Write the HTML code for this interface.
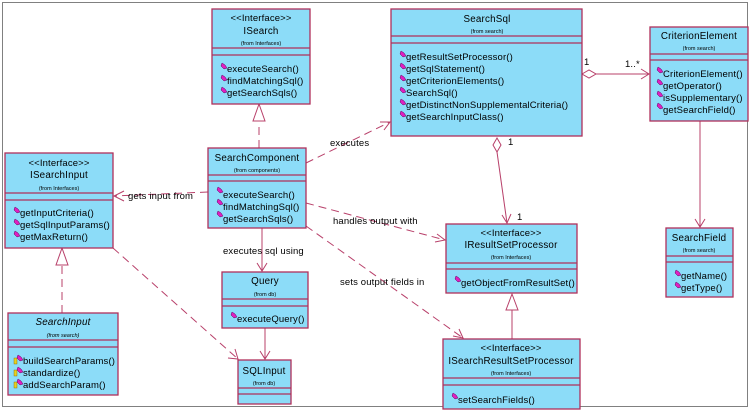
<!DOCTYPE html>
<html><head><meta charset="utf-8"><style>
html,body{margin:0;padding:0;background:#fff;width:751px;height:410px;overflow:hidden}
svg{display:block}
text{font-family:"Liberation Sans",sans-serif;fill:#000}
.n{font-size:9.8px;letter-spacing:0.2px}
.f{font-size:5.5px}
.m{font-size:9.5px;letter-spacing:0.15px}
.l{font-size:9.5px;letter-spacing:0.15px}
.b{fill:#8cdcf8;stroke:#b0305a;stroke-width:1.3}
.s{stroke:#b0305a;stroke-width:1.2;fill:none}
.d{stroke:#b8406a;stroke-width:1;fill:none;stroke-dasharray:8,5}
.c{stroke:#b8406a;stroke-width:1;fill:none}
</style></head><body>
<svg width="751" height="410" viewBox="0 0 751 410" xmlns="http://www.w3.org/2000/svg">
<defs>
<g id="ic"><path d="M0,-3 L3,-1 L5,2 L2,3 L-1,0 Z" fill="#e020c0" stroke="#600060" stroke-width="0.5"/></g>
<g id="key"><rect x="-4" y="-3" width="3" height="6" fill="#e8d020" stroke="#806000" stroke-width="0.4"/></g>
</defs>
<rect x="2.5" y="2.5" width="745" height="404" fill="#fff" stroke="#808080" stroke-width="1"/>

<line class="d" x1="259" y1="148" x2="259" y2="122"/>
<polygon points="259,104 253,121 265,121" fill="#fff" stroke="#b8406a"/>
<line class="d" x1="208" y1="192" x2="114" y2="196"/>
<polyline class="c" points="124,191 114,196 124,201"/>
<line class="d" x1="62" y1="313" x2="62" y2="265"/>
<polygon points="62,248 56,265 68,265" fill="#fff" stroke="#b8406a"/>
<line class="d" x1="113" y1="248" x2="238" y2="359"/>
<polyline class="c" points="228,358 238,359 235,349"/>
<line class="d" x1="306" y1="163" x2="390" y2="122"/>
<polyline class="c" points="380,122 390,122 384,130"/>
<line class="d" x1="306" y1="203" x2="445" y2="240"/>
<polyline class="c" points="437,234 445,240 435,242"/>
<line class="d" x1="306" y1="226" x2="463" y2="338"/>
<polyline class="c" points="453,336 463,338 459,329"/>
<line class="c" x1="262" y1="228" x2="262" y2="271"/>
<polyline class="c" points="257,263 262,271 267,263"/>
<line class="c" x1="265" y1="328" x2="265" y2="359"/>
<polyline class="c" points="260,351 265,359 270,351"/>
<polygon points="582,74 589,70 596,74 589,78" fill="#fff" stroke="#b8406a"/>
<line class="c" x1="596" y1="74" x2="649" y2="74"/>
<polyline class="c" points="641,69 649,74 641,79"/>
<polygon points="497,138 501,145 497,152 493,145" fill="#fff" stroke="#b8406a"/>
<line class="c" x1="497" y1="152" x2="507" y2="223"/>
<polyline class="c" points="502,215 507,223 511,214"/>
<line class="c" x1="512" y1="339" x2="512" y2="310"/>
<polygon points="512,294 506,310 518,310" fill="#fff" stroke="#b8406a"/>
<line class="c" x1="700" y1="121" x2="700" y2="227"/>
<polyline class="c" points="695,219 700,227 705,219"/>

<text class="l" x="128" y="199">gets input from</text>
<text class="l" x="330" y="146">executes</text>
<text class="l" x="333" y="224">handles output with</text>
<text class="l" x="340" y="285">sets output fields in</text>
<text class="l" x="223" y="254">executes sql using</text>
<text class="l" x="584" y="65">1</text>
<text class="l" x="625" y="67">1..*</text>
<text class="l" x="508" y="145">1</text>
<text class="l" x="517" y="220">1</text>

<rect class="b" x="212" y="9" width="98" height="95"/>
<line class="s" x1="212" y1="48" x2="310" y2="48"/><line class="s" x1="212" y1="55" x2="310" y2="55"/>
<text class="m" x="261" y="21" text-anchor="middle">&lt;&lt;Interface&gt;&gt;</text>
<text class="n" x="261" y="34" text-anchor="middle">ISearch</text>
<text class="f" x="261" y="45" text-anchor="middle">(from Interfaces)</text>
<use href="#ic" x="222" y="66"/><text class="m" x="227" y="72">executeSearch()</text>
<use href="#ic" x="222" y="78"/><text class="m" x="227" y="84">findMatchingSql()</text>
<use href="#ic" x="222" y="90"/><text class="m" x="227" y="96">getSearchSqls()</text>

<rect class="b" x="208" y="148" width="98" height="80"/>
<line class="s" x1="208" y1="175" x2="306" y2="175"/><line class="s" x1="208" y1="181" x2="306" y2="181"/>
<text class="n" x="257" y="161" text-anchor="middle">SearchComponent</text>
<text class="f" x="257" y="172" text-anchor="middle">(from components)</text>
<use href="#ic" x="218" y="190"/><text class="m" x="223" y="198">executeSearch()</text>
<use href="#ic" x="218" y="202"/><text class="m" x="223" y="210">findMatchingSql()</text>
<use href="#ic" x="218" y="214"/><text class="m" x="223" y="222">getSearchSqls()</text>

<rect class="b" x="5" y="153" width="108" height="95"/>
<line class="s" x1="5" y1="193" x2="113" y2="193"/><line class="s" x1="5" y1="200" x2="113" y2="200"/>
<text class="m" x="59" y="166" text-anchor="middle">&lt;&lt;Interface&gt;&gt;</text>
<text class="n" x="59" y="178" text-anchor="middle">ISearchInput</text>
<text class="f" x="59" y="190" text-anchor="middle">(from Interfaces)</text>
<use href="#ic" x="15" y="210"/><text class="m" x="20" y="216">getInputCriteria()</text>
<use href="#ic" x="15" y="222"/><text class="m" x="20" y="228">getSqlInputParams()</text>
<use href="#ic" x="15" y="234"/><text class="m" x="20" y="240">getMaxReturn()</text>

<rect class="b" x="8" y="313" width="110" height="82"/>
<line class="s" x1="8" y1="340" x2="118" y2="340"/><line class="s" x1="8" y1="347" x2="118" y2="347"/>
<text class="n" x="63" y="325" text-anchor="middle" font-style="italic">SearchInput</text>
<text class="f" x="63" y="337" text-anchor="middle" font-style="italic">(from search)</text>
<use href="#key" x="18" y="361"/><use href="#ic" x="18" y="358"/><text class="m" x="23" y="364">buildSearchParams()</text>
<use href="#key" x="18" y="373"/><use href="#ic" x="18" y="370"/><text class="m" x="23" y="376">standardize()</text>
<use href="#key" x="18" y="385"/><use href="#ic" x="18" y="382"/><text class="m" x="23" y="388">addSearchParam()</text>

<rect class="b" x="222" y="272" width="86" height="56"/>
<line class="s" x1="222" y1="299" x2="308" y2="299"/><line class="s" x1="222" y1="306" x2="308" y2="306"/>
<text class="n" x="265" y="284" text-anchor="middle">Query</text>
<text class="f" x="265" y="296" text-anchor="middle">(from db)</text>
<use href="#ic" x="232" y="315"/><text class="m" x="237" y="322">executeQuery()</text>

<rect class="b" x="238" y="360" width="53" height="44"/>
<line class="s" x1="238" y1="388" x2="291" y2="388"/><line class="s" x1="238" y1="394" x2="291" y2="394"/>
<text class="n" x="264" y="374" text-anchor="middle">SQLInput</text>
<text class="f" x="264" y="385" text-anchor="middle">(from db)</text>

<rect class="b" x="391" y="9" width="191" height="127"/>
<line class="s" x1="391" y1="36" x2="582" y2="36"/><line class="s" x1="391" y1="43" x2="582" y2="43"/>
<text class="n" x="487" y="22" text-anchor="middle">SearchSql</text>
<text class="f" x="487" y="33" text-anchor="middle">(from search)</text>
<use href="#ic" x="401" y="54"/><text class="m" x="406" y="60">getResultSetProcessor()</text>
<use href="#ic" x="401" y="66"/><text class="m" x="406" y="72">getSqlStatement()</text>
<use href="#ic" x="401" y="78"/><text class="m" x="406" y="84">getCriterionElements()</text>
<use href="#ic" x="401" y="90"/><text class="m" x="406" y="96">SearchSql()</text>
<use href="#ic" x="401" y="102"/><text class="m" x="406" y="108">getDistinctNonSupplementalCriteria()</text>
<use href="#ic" x="401" y="114"/><text class="m" x="406" y="120">getSearchInputClass()</text>

<rect class="b" x="650" y="27" width="98" height="94"/>
<line class="s" x1="650" y1="54" x2="748" y2="54"/><line class="s" x1="650" y1="60" x2="748" y2="60"/>
<text class="n" x="699" y="39" text-anchor="middle">CriterionElement</text>
<text class="f" x="699" y="50" text-anchor="middle">(from search)</text>
<use href="#ic" x="658" y="70"/><text class="m" x="663" y="77">CriterionElement()</text>
<use href="#ic" x="658" y="82"/><text class="m" x="663" y="89">getOperator()</text>
<use href="#ic" x="658" y="94"/><text class="m" x="663" y="101">isSupplementary()</text>
<use href="#ic" x="658" y="106"/><text class="m" x="663" y="113">getSearchField()</text>

<rect class="b" x="446" y="224" width="131" height="69"/>
<line class="s" x1="446" y1="263" x2="577" y2="263"/><line class="s" x1="446" y1="269" x2="577" y2="269"/>
<text class="m" x="511" y="236" text-anchor="middle">&lt;&lt;Interface&gt;&gt;</text>
<text class="n" x="511" y="248" text-anchor="middle">IResultSetProcessor</text>
<text class="f" x="511" y="259" text-anchor="middle">(from Interfaces)</text>
<use href="#ic" x="456" y="279"/><text class="m" x="461" y="286">getObjectFromResultSet()</text>

<rect class="b" x="443" y="339" width="137" height="70"/>
<line class="s" x1="443" y1="378" x2="580" y2="378"/><line class="s" x1="443" y1="385" x2="580" y2="385"/>
<text class="m" x="511" y="351" text-anchor="middle">&lt;&lt;Interface&gt;&gt;</text>
<text class="n" x="511" y="364" text-anchor="middle">ISearchResultSetProcessor</text>
<text class="f" x="511" y="375" text-anchor="middle">(from Interfaces)</text>
<use href="#ic" x="453" y="396"/><text class="m" x="458" y="403">setSearchFields()</text>

<rect class="b" x="666" y="228" width="67" height="69"/>
<line class="s" x1="666" y1="256" x2="733" y2="256"/><line class="s" x1="666" y1="262" x2="733" y2="262"/>
<text class="n" x="699" y="241" text-anchor="middle">SearchField</text>
<text class="f" x="699" y="252" text-anchor="middle">(from search)</text>
<use href="#ic" x="676" y="273"/><text class="m" x="681" y="279">getName()</text>
<use href="#ic" x="676" y="285"/><text class="m" x="681" y="291">getType()</text>
</svg>
</body></html>
